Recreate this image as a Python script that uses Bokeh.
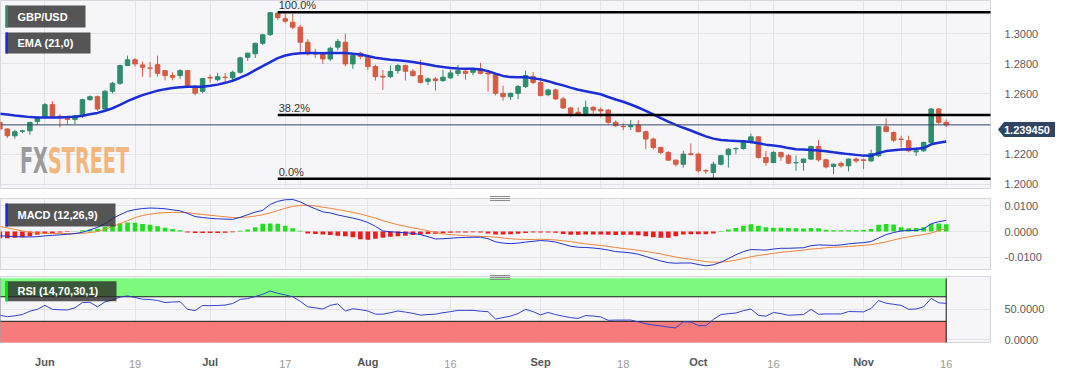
import numpy as np
import pandas as pd
from bokeh.plotting import figure
from bokeh.layouts import column
from bokeh.models import (ColumnDataSource, FixedTicker, NumeralTickFormatter, Grid, Span,
                          BoxAnnotation, Label, Range1d, Div)
from bokeh.core.properties import value
from bokeh.embed import file_html
from bokeh.resources import INLINE

# ---------------- data ----------------
dates = [d.strftime("%Y-%m-%d") for d in pd.bdate_range("2023-05-24", "2023-11-16")]

opens = [
    1.2411, 1.2367, 1.2322, 1.2352, 1.2355, 1.2417,
    1.2449, 1.2529, 1.2452, 1.2449, 1.2431, 1.2455, 1.2562, 1.2582, 1.2500, 1.2618,
    1.2671, 1.2789, 1.2827, 1.2793, 1.2773, 1.2795, 1.2755, 1.2722, 1.2722, 1.2755,
    1.2652, 1.2617, 1.2710, 1.2695, 1.2712, 1.2707, 1.2744, 1.2844, 1.2867, 1.2937,
    1.2995, 1.3137, 1.3100, 1.3077, 1.3044, 1.2944, 1.2869, 1.2867, 1.2833, 1.2911,
    1.2944, 1.2800, 1.2871, 1.2844, 1.2782, 1.2718, 1.2715, 1.2755, 1.2789, 1.2751,
    1.2722, 1.2684, 1.2700, 1.2689, 1.2707, 1.2737, 1.2751, 1.2744, 1.2767, 1.2740,
    1.2729, 1.2604, 1.2582, 1.2604, 1.2649, 1.2715, 1.2677, 1.2595, 1.2627, 1.2567,
    1.2507, 1.2478, 1.2471, 1.2511, 1.2496, 1.2493, 1.2411, 1.2384, 1.2382, 1.2393,
    1.2349, 1.2300, 1.2244, 1.2211, 1.2160, 1.2133, 1.2202, 1.2200, 1.2090, 1.2078,
    1.2133, 1.2196, 1.2235, 1.2237, 1.2277, 1.2315, 1.2178, 1.2144, 1.2211, 1.2189,
    1.2142, 1.2144, 1.2167, 1.2251, 1.2162, 1.2118, 1.2138, 1.2122, 1.2167, 1.2162,
    1.2155, 1.2189, 1.2382, 1.2344, 1.2300, 1.2289, 1.2215, 1.2222, 1.2278, 1.2500,
    1.2411]
highs = [
    1.2430, 1.2372, 1.2362, 1.2362, 1.2415, 1.2448,
    1.2540, 1.2551, 1.2465, 1.2455, 1.2460, 1.2568, 1.2590, 1.2590, 1.2625, 1.2680,
    1.2795, 1.2855, 1.2838, 1.2815, 1.2812, 1.2855, 1.2760, 1.2745, 1.2765, 1.2760,
    1.2660, 1.2705, 1.2730, 1.2740, 1.2740, 1.2755, 1.2848, 1.2875, 1.2940, 1.3000,
    1.3144, 1.3144, 1.3135, 1.3133, 1.3060, 1.2965, 1.2900, 1.2880, 1.2915, 1.2965,
    1.3000, 1.2860, 1.2880, 1.2850, 1.2795, 1.2760, 1.2789, 1.2800, 1.2795, 1.2765,
    1.2827, 1.2710, 1.2712, 1.2760, 1.2760, 1.2793, 1.2770, 1.2775, 1.2807, 1.2745,
    1.2740, 1.2655, 1.2610, 1.2660, 1.2755, 1.2745, 1.2710, 1.2635, 1.2635, 1.2580,
    1.2515, 1.2510, 1.2556, 1.2520, 1.2511, 1.2500, 1.2425, 1.2404, 1.2427, 1.2425,
    1.2355, 1.2310, 1.2250, 1.2220, 1.2165, 1.2222, 1.2271, 1.2210, 1.2100, 1.2150,
    1.2195, 1.2240, 1.2245, 1.2295, 1.2337, 1.2320, 1.2222, 1.2220, 1.2215, 1.2200,
    1.2191, 1.2170, 1.2255, 1.2293, 1.2170, 1.2135, 1.2150, 1.2170, 1.2178, 1.2170,
    1.2230, 1.2385, 1.2438, 1.2350, 1.2322, 1.2322, 1.2245, 1.2283, 1.2505, 1.2506,
    1.2430]
lows = [
    1.2355, 1.2307, 1.2302, 1.2340, 1.2329, 1.2395,
    1.2440, 1.2440, 1.2378, 1.2395, 1.2400, 1.2440, 1.2555, 1.2488, 1.2495, 1.2605,
    1.2660, 1.2785, 1.2782, 1.2715, 1.2710, 1.2715, 1.2690, 1.2690, 1.2700, 1.2640,
    1.2590, 1.2605, 1.2675, 1.2685, 1.2680, 1.2680, 1.2735, 1.2820, 1.2840, 1.2925,
    1.2985, 1.3090, 1.3070, 1.3030, 1.2877, 1.2855, 1.2840, 1.2800, 1.2820, 1.2890,
    1.2784, 1.2767, 1.2830, 1.2760, 1.2689, 1.2627, 1.2705, 1.2735, 1.2689, 1.2715,
    1.2670, 1.2660, 1.2622, 1.2680, 1.2700, 1.2720, 1.2695, 1.2725, 1.2730, 1.2616,
    1.2590, 1.2555, 1.2560, 1.2565, 1.2640, 1.2665, 1.2585, 1.2585, 1.2560, 1.2500,
    1.2445, 1.2465, 1.2468, 1.2470, 1.2445, 1.2400, 1.2380, 1.2360, 1.2360, 1.2345,
    1.2233, 1.2230, 1.2200, 1.2155, 1.2117, 1.2110, 1.2190, 1.2078, 1.2070, 1.2037,
    1.2125, 1.2111, 1.2200, 1.2230, 1.2270, 1.2170, 1.2123, 1.2140, 1.2155, 1.2135,
    1.2089, 1.2090, 1.2160, 1.2150, 1.2105, 1.2067, 1.2110, 1.2085, 1.2140, 1.2100,
    1.2150, 1.2180, 1.2345, 1.2280, 1.2245, 1.2212, 1.2187, 1.2215, 1.2270, 1.2400,
    1.2380]
closes = [
    1.2367, 1.2322, 1.2349, 1.2355, 1.2411, 1.2444,
    1.2529, 1.2449, 1.2449, 1.2431, 1.2455, 1.2562, 1.2582, 1.2500, 1.2618, 1.2671,
    1.2789, 1.2827, 1.2800, 1.2778, 1.2771, 1.2737, 1.2722, 1.2711, 1.2755, 1.2649,
    1.2605, 1.2702, 1.2706, 1.2715, 1.2709, 1.2744, 1.2840, 1.2871, 1.2937, 1.2993,
    1.3140, 1.3107, 1.3084, 1.3044, 1.2944, 1.2867, 1.2865, 1.2833, 1.2904, 1.2949,
    1.2800, 1.2855, 1.2849, 1.2782, 1.2715, 1.2712, 1.2749, 1.2789, 1.2751, 1.2722,
    1.2677, 1.2700, 1.2689, 1.2711, 1.2740, 1.2755, 1.2737, 1.2767, 1.2737, 1.2733,
    1.2604, 1.2582, 1.2604, 1.2649, 1.2722, 1.2677, 1.2589, 1.2627, 1.2567, 1.2507,
    1.2471, 1.2467, 1.2511, 1.2493, 1.2487, 1.2411, 1.2389, 1.2382, 1.2389, 1.2349,
    1.2300, 1.2244, 1.2211, 1.2160, 1.2133, 1.2200, 1.2198, 1.2089, 1.2088, 1.2133,
    1.2189, 1.2233, 1.2237, 1.2289, 1.2315, 1.2178, 1.2144, 1.2211, 1.2182, 1.2140,
    1.2144, 1.2167, 1.2251, 1.2162, 1.2115, 1.2133, 1.2122, 1.2167, 1.2155, 1.2158,
    1.2204, 1.2382, 1.2351, 1.2293, 1.2298, 1.2222, 1.2222, 1.2278, 1.2500, 1.2411,
    1.23945]

ema21 = [
    1.2468, 1.2463, 1.2457, 1.2452, 1.2446, 1.2443,
    1.2444, 1.2444, 1.2444, 1.2446, 1.2449, 1.2455, 1.2465, 1.2474, 1.2488, 1.2505,
    1.2528, 1.2552, 1.2573, 1.2592, 1.2607, 1.2622, 1.2632, 1.2640, 1.2645, 1.2648,
    1.2648, 1.2648, 1.2654, 1.2662, 1.2674, 1.2688, 1.2708, 1.2730, 1.2758, 1.2785,
    1.2812, 1.2838, 1.2856, 1.2866, 1.2871, 1.2872, 1.2872, 1.2871, 1.2872, 1.2873,
    1.2872, 1.2868, 1.2862, 1.2852, 1.2841, 1.2834, 1.2828, 1.2824, 1.2819, 1.2812,
    1.2804, 1.2796, 1.2786, 1.2779, 1.2773, 1.2770, 1.2768, 1.2767, 1.2763, 1.2752,
    1.2735, 1.2720, 1.2712, 1.2711, 1.2712, 1.2705, 1.2697, 1.2685, 1.2670, 1.2657,
    1.2642, 1.2628, 1.2618, 1.2608, 1.2598, 1.2580, 1.2563, 1.2548, 1.2530, 1.2510,
    1.2488, 1.2465, 1.2440, 1.2416, 1.2394, 1.2375, 1.2357, 1.2337, 1.2318, 1.2303,
    1.2294, 1.2290, 1.2288, 1.2285, 1.2280, 1.2272, 1.2263, 1.2257, 1.2250, 1.2240,
    1.2233, 1.2230, 1.2227, 1.2224, 1.2219, 1.2212, 1.2206, 1.2200, 1.2195, 1.2190,
    1.2189, 1.2208, 1.2220, 1.2226, 1.2230, 1.2233, 1.2235, 1.2240, 1.2265, 1.2276,
    1.2284]

macd_line = [
    -0.0017, -0.0018, -0.0020, -0.0021, -0.0021, -0.0020,
    -0.0017, -0.0015, -0.0013, -0.0011, -0.0008, -0.0003, 0.0006, 0.0016, 0.0030, 0.0050,
    0.0065, 0.0078, 0.0085, 0.0089, 0.0091, 0.0090, 0.0088, 0.0084, 0.0080, 0.0070,
    0.0058, 0.0054, 0.0051, 0.0049, 0.0048, 0.0047, 0.0055, 0.0065, 0.0075, 0.0082,
    0.0105, 0.0117, 0.0123, 0.0124, 0.0115, 0.0100, 0.0088, 0.0076, 0.0072, 0.0064,
    0.0058, 0.0052, 0.0045, 0.0035, 0.0020, 0.0002, -0.0001, -0.0003, -0.0005, -0.0007,
    -0.0012, -0.0020, -0.0029, -0.0028, -0.0026, -0.0024, -0.0023, -0.0022, -0.0022, -0.0028,
    -0.0040, -0.0045, -0.0047, -0.0045, -0.0041, -0.0038, -0.0035, -0.0037, -0.0041, -0.0049,
    -0.0057, -0.0061, -0.0062, -0.0064, -0.0067, -0.0072, -0.0078, -0.0080, -0.0083, -0.0088,
    -0.0097, -0.0106, -0.0114, -0.0121, -0.0123, -0.0122, -0.0122, -0.0128, -0.0133, -0.0129,
    -0.0119, -0.0105, -0.0090, -0.0078, -0.0070, -0.0071, -0.0072, -0.0068, -0.0065, -0.0065,
    -0.0064, -0.0063, -0.0055, -0.0052, -0.0053, -0.0054, -0.0052, -0.0048, -0.0045, -0.0043,
    -0.0039, -0.0025, -0.0012, -0.0004, 0.0002, 0.0004, 0.0004, 0.0010, 0.0030, 0.0038,
    0.0043]

macd_signal = [
    0.0020, 0.0014, 0.0008, 0.0002, -0.0003, -0.0006,
    -0.0007, -0.0008, -0.0008, -0.0008, -0.0008, -0.0007, -0.0004, 0.0000, 0.0008, 0.0020,
    0.0030, 0.0042, 0.0054, 0.0062, 0.0067, 0.0071, 0.0073, 0.0074, 0.0074, 0.0073,
    0.0069, 0.0066, 0.0063, 0.0060, 0.0057, 0.0054, 0.0054, 0.0056, 0.0060, 0.0065,
    0.0072, 0.0081, 0.0090, 0.0097, 0.0101, 0.0102, 0.0099, 0.0094, 0.0090, 0.0085,
    0.0080, 0.0074, 0.0068, 0.0060, 0.0052, 0.0042, 0.0034, 0.0026, 0.0020, 0.0014,
    0.0009, 0.0003, -0.0004, -0.0009, -0.0012, -0.0014, -0.0016, -0.0018, -0.0019, -0.0020,
    -0.0022, -0.0025, -0.0028, -0.0030, -0.0031, -0.0031, -0.0030, -0.0031, -0.0033, -0.0036,
    -0.0039, -0.0044, -0.0048, -0.0051, -0.0054, -0.0058, -0.0062, -0.0066, -0.0069, -0.0073,
    -0.0077, -0.0082, -0.0087, -0.0093, -0.0099, -0.0104, -0.0108, -0.0112, -0.0117, -0.0119,
    -0.0119, -0.0116, -0.0111, -0.0105, -0.0098, -0.0093, -0.0089, -0.0085, -0.0081, -0.0078,
    -0.0075, -0.0072, -0.0068, -0.0066, -0.0063, -0.0061, -0.0060, -0.0058, -0.0056, -0.0054,
    -0.0051, -0.0046, -0.0040, -0.0033, -0.0026, -0.0021, -0.0016, -0.0012, -0.0006, 0.0004,
    0.0011]

macd_hist = [
    -0.0026, -0.0026, -0.0024, -0.0022, -0.0018, -0.0013,
    -0.0009, -0.0006, -0.0004, -0.0002, 0.0001, 0.0005, 0.0008, 0.0011, 0.0017, 0.0024,
    0.0031, 0.0035, 0.0034, 0.0029, 0.0026, 0.0020, 0.0015, 0.0010, 0.0005, -0.0004,
    -0.0006, -0.0006, -0.0006, -0.0006, -0.0005, -0.0003, 0.0003, 0.0008, 0.0016, 0.0030,
    0.0031, 0.0030, 0.0022, 0.0013, 0.0003, -0.0008, -0.0010, -0.0012, -0.0014, -0.0016,
    -0.0018, -0.0022, -0.0030, -0.0032, -0.0028, -0.0024, -0.0020, -0.0018, -0.0016, -0.0014,
    -0.0012, -0.0010, -0.0009, -0.0006, -0.0005, -0.0004, -0.0004, -0.0003, -0.0004, -0.0008,
    -0.0012, -0.0012, -0.0011, -0.0009, -0.0006, -0.0004, -0.0004, -0.0004, -0.0005, -0.0010,
    -0.0013, -0.0013, -0.0012, -0.0012, -0.0012, -0.0013, -0.0014, -0.0013, -0.0013, -0.0015,
    -0.0018, -0.0022, -0.0024, -0.0024, -0.0018, -0.0012, -0.0011, -0.0011, -0.0011, -0.0008,
    0.0002, 0.0008, 0.0014, 0.0022, 0.0028, 0.0022, 0.0016, 0.0015, 0.0015, 0.0014,
    0.0013, 0.0012, 0.0014, 0.0013, 0.0007, 0.0005, 0.0005, 0.0005, 0.0005, 0.0006,
    0.0010, 0.0026, 0.0029, 0.0027, 0.0016, 0.0013, 0.0014, 0.0016, 0.0030, 0.0031,
    0.0028]

rsi14 = [
    40.0, 37.5, 39.0, 41.0, 46.5, 49.5,
    56.0, 49.5, 48.8, 48.5, 52.0, 60.5, 61.0, 53.6, 61.6, 65.0,
    69.5, 71.4, 68.8, 66.0, 65.5, 64.0, 60.5, 61.5, 62.0, 49.5,
    47.5, 55.8, 55.5, 55.8, 56.5, 59.0, 65.7, 67.0, 70.4, 74.0,
    79.3, 75.7, 73.0, 70.0, 62.6, 53.5, 52.0, 50.0, 56.0, 58.4,
    46.8, 50.5, 49.0, 46.8, 41.6, 41.6, 44.0, 46.8, 45.0, 43.0,
    40.1, 41.0, 41.6, 44.0, 45.7, 47.8, 47.8, 47.8, 46.5, 45.7,
    33.7, 36.0, 38.5, 42.7, 49.5, 45.7, 40.5, 44.4, 41.0, 38.3,
    36.0, 34.7, 39.4, 38.5, 37.2, 31.6, 32.0, 32.0, 32.1, 29.0,
    26.0, 24.0, 22.5, 20.5, 19.3, 29.0, 29.0, 23.0, 23.0, 33.0,
    40.9, 42.5, 43.5, 47.4, 50.0, 39.8, 38.3, 44.4, 42.5, 39.8,
    40.5, 41.0, 49.5, 41.5, 42.0, 42.0, 42.0, 45.9, 45.7, 45.4,
    51.0, 63.8, 59.5, 57.7, 56.0, 49.5, 50.0, 53.6, 67.3, 60.2,
    59.2]

tick_dates = ["2023-06-01", "2023-06-19", "2023-07-03", "2023-07-17", "2023-08-01", "2023-08-16",
              "2023-09-01", "2023-09-18", "2023-10-02", "2023-10-16", "2023-11-01", "2023-11-16"]
tick_labels = ["Jun", "19", "Jul", "17", "Aug", "16", "Sep", "18", "Oct", "16", "Nov", "16"]

price_ticks = [1.20, 1.22, 1.26, 1.28, 1.30]
macd_ticks = [-0.01, 0.0, 0.01]
rsi_ticks = [0, 50]
rsi_upper, rsi_lower = 70, 30
last_price = 1.23945
fib_labels = ["100.0%", "38.2%", "0.0%"]
fib_levels = [1.3144, 1.2460, 1.2037]
fib_start = "2023-07-14"

n = len(dates)
for arr in (opens, highs, lows, closes, ema21, macd_line, macd_signal, macd_hist, rsi14):
    assert len(arr) == n, (len(arr), n)

xs = list(range(n))
tick_pos = [dates.index(d) for d in tick_dates]
month_pos = [p for p, t in zip(tick_pos, tick_labels) if t.isalpha()]
day_pos = [p for p, t in zip(tick_pos, tick_labels) if not t.isalpha()]

# ---------------- geometry / style ----------------
PXD = 7.5108                      # pixels per trading day
FRAME_W = 990
X_START = dates.index("2023-06-01") - 44.4 / PXD
X_END = X_START + FRAME_W / PXD

MAIN_H, SUB_H = 188, 71
PX_PER_PRICE = 1504
MAIN_TOP = 1.32214
MAIN_BOT = MAIN_TOP - MAIN_H / PX_PER_PRICE
MACD_TOP = 33 / 2580
MACD_BOT = MACD_TOP - SUB_H / 2580
RSI_TOP = 50 + 35 / 0.66
RSI_BOT = RSI_TOP - SUB_H / 0.66


def mx(px):
    return X_START + px / PXD


def my(py):
    return MAIN_TOP - py / PX_PER_PRICE


def cy(py):  # page y -> macd value (frame top at 198)
    return MACD_TOP - (py - 198) / 2580


def ry(py):  # page y -> rsi value (frame top at 276)
    return RSI_TOP - (py - 276) / 0.66


FONT = "Liberation Sans"
PANEL_BG = "#f6f6f8"
GRID = "#e2e2e8"
UP, DOWN = "#2f8c6c", "#d65b44"

xr = Range1d(X_START, X_END)


def make_fig(height, ylo, yhi, btop, bbot, ticks, xaxis=False):
    p = figure(width=1067, height=height, x_range=xr, y_range=Range1d(ylo, yhi),
               output_backend="svg", toolbar_location=None,
               x_axis_location="below" if xaxis else None, y_axis_location="right",
               min_border_left=0, min_border_right=77, min_border_top=btop,
               min_border_bottom=bbot, background_fill_color=PANEL_BG,
               border_fill_color="white", outline_line_color="#d6d6de")
    t = FixedTicker(ticks=ticks)
    p.yaxis.ticker = t
    p.ygrid.ticker = t
    p.ygrid.grid_line_color = GRID
    p.yaxis.formatter = NumeralTickFormatter(format="0.0000")
    p.yaxis.axis_line_color = None
    p.yaxis.major_tick_line_color = None
    p.yaxis.minor_tick_line_color = None
    p.yaxis.major_label_standoff = 8
    p.yaxis.major_label_text_font = FONT
    p.yaxis.major_label_text_font_size = "11px"
    p.yaxis.major_label_text_color = "#5a5a5a"
    vt = FixedTicker(ticks=tick_pos)
    if xaxis:
        p.xgrid.ticker = vt
        p.xgrid.grid_line_color = GRID
    else:
        p.add_layout(Grid(dimension=0, ticker=vt, grid_line_color=GRID))
    return p


def tag(p, ymap, x0, x1, y0, y1, text, accent):
    p.add_layout(BoxAnnotation(left=mx(x0), right=mx(x1), top=ymap(y0), bottom=ymap(y1),
                               fill_color="#282828", fill_alpha=0.78, line_color=None))
    p.add_layout(BoxAnnotation(left=mx(x0), right=mx(x0 + 2.5), top=ymap(y0), bottom=ymap(y1),
                               fill_color=accent, fill_alpha=1, line_color=None))
    p.add_layout(Label(x=mx(x0 + 12), y=ymap((y0 + y1) / 2), text=text,
                       text_baseline="middle", text_align="left", text_color="white",
                       text_font=FONT, text_font_size="11px", text_font_style="bold"))


def style_xaxis(p, ticks, color, bold):
    p.xaxis.ticker = FixedTicker(ticks=ticks)
    p.xaxis.major_label_overrides = {q: t for q, t in zip(tick_pos, tick_labels) if q in ticks}
    p.xaxis.axis_line_color = None
    p.xaxis.major_tick_line_color = None
    p.xaxis.minor_tick_line_color = None
    p.xaxis.major_label_standoff = 7
    p.xaxis.major_label_text_font = FONT
    p.xaxis.major_label_text_font_size = "11px"
    p.xaxis.major_label_text_font_style = "bold" if bold else "normal"
    p.xaxis.major_label_text_color = color


# ---------------- main price panel ----------------
f1 = make_fig(MAIN_H + 9, MAIN_BOT, MAIN_TOP, 0, 9, price_ticks)

cs = ColumnDataSource(dict(
    x=xs, o=opens, h=highs, l=lows, c=closes,
    top=[max(a, b) for a, b in zip(opens, closes)],
    bottom=[min(a, b) for a, b in zip(opens, closes)],
    color=[UP if c >= o else DOWN for o, c in zip(opens, closes)]))
f1.segment(x0="x", y0="l", x1="x", y1="h", line_color="color", line_width=1, source=cs)
f1.vbar(x="x", top="top", bottom="bottom", width=0.6, fill_color="color",
        line_color="color", line_width=1, source=cs)

f1.line(xs, ema21, line_color="#1b2ed8", line_width=2.5)

fx = dates.index(fib_start)
f1.segment(x0=[fx] * 3, y0=fib_levels, x1=[X_END + 5] * 3, y1=fib_levels,
           line_color="black", line_width=2.5)
f1.text(x=[fx] * 3, y=fib_levels, text=fib_labels, x_offset=1, y_offset=-1,
        text_baseline="bottom", text_align="left", text_font=value(FONT),
        text_font_size="11px", text_color="#333333")

f1.add_layout(Span(location=last_price, dimension="width", line_color="#34466a", line_width=1))

tag(f1, my, 5, 85, 5, 27, "GBP/USD", UP)
tag(f1, my, 5, 90, 32, 53, "EMA (21,0)", "#1b2ed8")

# ---------------- MACD panel ----------------
f2 = make_fig(1 + SUB_H + 5, MACD_BOT, MACD_TOP, 1, 5, macd_ticks)
hs = ColumnDataSource(dict(x=xs, h=macd_hist,
                           color=["#1fe01f" if v >= 0 else "#ee1c1c" for v in macd_hist]))
f2.vbar(x="x", top="h", bottom=0, width=0.62, fill_color="color", line_color=None, source=hs)
f2.line(xs, macd_signal, line_color="#f0843c", line_width=1)
f2.line(xs, macd_line, line_color="#2233cc", line_width=1)
tag(f2, cy, 5, 115, 203, 226, "MACD (12,26,9)", "#1b2ed8")

# ---------------- RSI panel ----------------
f3 = make_fig(2 + SUB_H + 23, RSI_BOT, RSI_TOP, 2, 23, rsi_ticks, xaxis=True)
x_first, x_last = xs[0], xs[-1]
f3.quad(left=[x_first], right=[x_last], bottom=[rsi_upper], top=[100],
        fill_color="#7dfa7d", line_color=None)
f3.quad(left=[x_first], right=[x_last], bottom=[-20], top=[rsi_lower],
        fill_color="#f77b7b", line_color=None)
f3.segment(x0=[x_first, x_first], y0=[rsi_upper, rsi_lower], x1=[x_last, x_last],
           y1=[rsi_upper, rsi_lower], line_color="#1a1a1a", line_width=1)
f3.segment(x0=[x_first, x_last], y0=[-20, -20], x1=[x_first, x_last], y1=[100, 100],
           line_color="#1a1a1a", line_width=1)
f3.line(xs, rsi14, line_color="#3344cc", line_width=1)
tag(f3, ry, 5, 116, 281, 302.5, "RSI (14,70,30,1)", "#00e000")
style_xaxis(f3, month_pos, "#555555", True)

# day numbers: a second, transparent axis strip laid over the first one
f4 = figure(width=1067, height=24, x_range=xr, y_range=Range1d(0, 1),
            output_backend="svg", toolbar_location=None, x_axis_location="below",
            y_axis_location=None, min_border_left=0, min_border_right=77, min_border_top=0,
            min_border_bottom=23, background_fill_alpha=0, border_fill_alpha=0,
            outline_line_color=None,
            styles={"position": "absolute", "left": "0px", "top": "346px"})
f4.xgrid.visible = False
style_xaxis(f4, day_pos, "#9a9a9a", False)

layout = column(f1, f2, f3, spacing=0,
                styles={"position": "absolute", "left": "0px", "top": "0px"})

# FXSTREET watermark (condensed lettering)
watermark = Div(
    text='<span style="color:#8a8a8e;opacity:0.85">FX</span>'
         '<span style="color:#f0a860;opacity:0.8">STREET</span>',
    width=200, height=40,
    styles={"position": "absolute", "left": "15px", "top": "138.5px",
            "font-family": "'DejaVu Sans Condensed', 'Liberation Sans', sans-serif",
            "font-weight": "bold", "font-size": "35px", "line-height": "35px",
            "transform": "scaleX(0.61)", "transform-origin": "0 0",
            "white-space": "nowrap", "pointer-events": "none"})

# last-price tag on the price axis
price_tag = Div(
    text=f'<span style="font: bold 11px \'Liberation Sans\'; color: white; '
         f'line-height: 15px;">{last_price:.6f}</span>',
    width=57, height=15,
    styles={"position": "absolute", "left": "993px", "top": "117px",
            "background-color": "#2f4563", "padding-left": "6px", "box-sizing": "border-box",
            "clip-path": "polygon(0 50%, 6px 0, 100% 0, 100% 100%, 6px 100%)"})

# pane separators (drag handles)
GRIP = "repeating-linear-gradient(to bottom, #8a8a8a 0px, #8a8a8a 1px, transparent 1px, transparent 2px)"
grip1 = Div(text="", width=20, height=5,
            styles={"position": "absolute", "left": "485px", "top": "191px", "background": GRIP})
grip2 = Div(text="", width=20, height=5,
            styles={"position": "absolute", "left": "485px", "top": "270px", "background": GRIP})

open("out.html", "w").write(file_html([layout, f4, watermark, price_tag, grip1, grip2], INLINE))
